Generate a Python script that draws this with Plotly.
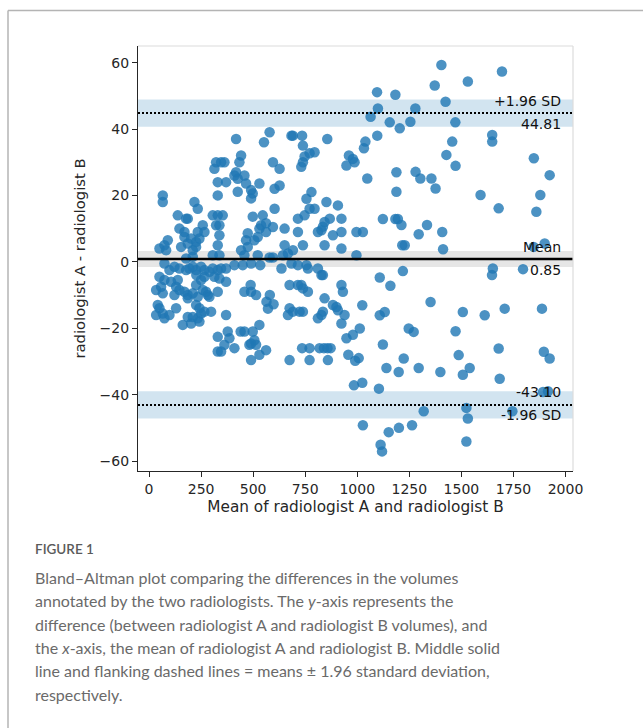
import plotly.graph_objects as go

# ---- data ----
mean_ab = [
    # left cluster, upper half
    418, 322, 346, 362, 314, 442, 434, 418, 410, 458, 426, 466, 490, 498, 426, 490, 530,
    330, 370, 330, 66, 66, 218, 234, 138, 178, 186, 306, 330, 354, 258, 322, 338, 338, 330,
    146, 170, 170, 234, 266, 242, 226, 226, 90, 74, 50, 82, 154, 186, 202, 210, 306, 338,
    474, 466, 474, 506, 530, 522, 538, 562, 562, 498, 546, 442, 458, 522, 178, 210,
    # left cluster, lower half
    74, 98, 122, 146, 178, 194, 210, 226, 250, 266, 290, 306, 330, 346, 370, 410, 450, 490, 534,
    50, 74, 58, 34, 66, 106, 138, 130, 146, 122, 170, 186, 186, 226, 210, 234, 258, 282, 274,
    290, 330, 370, 250, 266, 314, 338, 227, 42, 50, 34, 66, 74, 98, 130, 226, 242, 250, 234,
    266, 298, 210, 186, 162, 202, 242, 370, 330, 330, 346, 362, 378, 410, 386, 458, 440, 498,
    506, 490, 482, 514, 530, 490, 530, 562, 458, 490, 514, 488,
    # middle
    579, 684, 691, 735, 856, 552, 739, 795, 771, 747, 739, 731, 960, 979, 987, 948, 595, 627,
    603, 627, 780, 756, 771, 795, 852, 907, 603, 595, 651, 715, 715, 747, 868, 843, 835, 828,
    811, 924, 924, 883, 996, 651, 739, 843, 924, 691, 667, 643, 595, 579, 996, 636, 684, 715,
    756, 763, 811, 828, 835, 675, 715, 731, 739, 763, 924, 931, 580, 564, 598, 571, 843, 883,
    900, 907, 939, 924, 675, 691, 723, 739, 667, 835, 828, 811, 979, 948, 735, 771, 819, 840,
    857, 872, 675, 771, 859, 957, 990, 1007, 984,
    # right
    1404, 1695, 1372, 1531, 1095, 1183, 1424, 1099, 1279, 1064, 1156, 1204, 1255, 1471, 1096,
    1039, 1032, 1048, 1456, 1428, 1472, 1648, 1648, 1848, 1924, 1879, 1860, 1592, 1679, 1188,
    1280, 1303, 1356, 1376, 1188, 1123, 1183, 1195, 1212, 1027, 1295, 1335, 1408, 1216, 1228,
    1412, 1847, 1900, 1796, 1651, 1647, 1219, 1108, 1159, 1024, 1352, 1108, 1132, 1507, 1612,
    1708, 1887, 1012, 1247, 1271, 1472, 1123, 1679, 1896, 1924, 1487, 1223, 1140, 1199, 1295,
    1399, 1507, 1540, 1684, 1024, 1104, 1892, 1916, 1319, 1524, 1531, 1745, 1027, 1151, 1200,
    1263, 1524, 1112, 1119,
]
diff_ab = [
    37, 30, 30, 30, 28, 32, 30, 27, 26, 26, 25, 23.6, 21.6, 20.6, 21.1, 19.1, 23.6,
    24, 24, 20, 20, 18, 18, 16, 14, 13, 13, 14, 14, 14, 11, 11, 11, 8, 5,
    10, 9, 7.5, 9, 9, 7, 6, 4.5, 6.5, 5, 4, 3.5, 4.5, 5.5, 7, 3.5, 2, 2,
    8.6, 6.5, 4.5, 6.5, 10, 7.5, 11, 11.6, 9, 13.6, 14, 3.5, 2, 2, 1, 1.5,
    -0.5, -2.5, -1.5, -2, -2.5, -2, -1.5, -2.5, -1.5, -2.5, -3, -2, -2.5, -2, -2, -1, -1, -0.5, -1,
    -4.5, -5.5, -7.5, -8.5, -9.5, -6, -5.5, -7.5, -8.5, -10, -9, -10, -11, -7, -9.5, -10.5, -8.5, -10, -9,
    -10.5, -9, -6, -5.5, -4.5, -4.5, -5, -4, -13, -14, -16, -15.6, -17, -16, -14, -13, -14, -15.6, -17,
    -15, -15, -16.6, -16.6, -19, -18.6, -18, -16, -22.6, -27, -27, -25, -21, -26, -23, -21, -21, -21,
    -23.6, -24.6, -25, -25, -19, -29.6, -28, -26.6, -9, -9, -10, -7,
    39, 38, 38, 38, 37, 36, 35, 33, 32.7, 31.7, 30, 28.6, 32, 31, 30, 29, 30, 28,
    22, 23, 21, 19, 16, 16, 18, 17, 16, 10.5, 10, 13, 9, 14, 13, 12, 10.6, 9.5,
    9, 13, 9, 8, 9, 5, 5, 5, 4, 3.5, 2.5, 2, 1.3, 1.3, 2, -2, -0.5, -1,
    -1, -2, -2, -4, -4, -7, -7, -7, -8, -9, -7, -9, -10, -12, -12.8, -14.1, -11, -13,
    -13.6, -14.6, -16, -18.6, -14, -15, -15, -15, -16, -15, -16, -17, -22, -23, -26, -26, -26, -26,
    -26, -26, -29.6, -29.6, -29.6, -28, -29.8, -29, -37.2,
    59.3, 57.3, 53.1, 54.3, 51.1, 50.3, 48.2, 46.2, 46.2, 43.7, 42, 40.2, 42.2, 42, 38,
    36.2, 34.2, 25.1, 36.2, 32.2, 28.9, 38.2, 36.2, 31.2, 26.1, 20.1, 15.1, 20.1, 16.1, 27,
    27.1, 25.1, 25.1, 22.1, 21.1, 12.9, 12.9, 12.9, 11.1, 9, 8.3, 11.1, 9, 5, 5,
    3.8, 4.5, 5.5, -2.2, -2, -4, -2.8, -4.7, -7.2, -13.1, -12.1, -16.1, -15.1, -15.1, -16.1,
    -14.1, -14.1, -20.1, -20.1, -21.1, -20.9, -24.9, -26.1, -27.1, -29.1, -28.1, -29.1, -32, -33.2, -32,
    -33.2, -34, -32, -35.2, -36.4, -38.2, -39.2, -39, -45, -44, -47.2, -45, -49.2, -51.3, -50,
    -49.2, -54.1, -55.1, -57.1,
]

mean_diff = 0.85
upper_loa = 44.81
lower_loa = -43.10
mean_ci = [-1.55, 3.25]
upper_ci = [40.7, 48.9]
lower_ci = [-47.2, -39.0]

x_ticks = [0, 250, 500, 750, 1000, 1250, 1500, 1750, 2000]
y_ticks = [-60, -40, -20, 0, 20, 40, 60]
x_range = [-53, 2036]
y_range = [-63, 65]

x_title = "Mean of radiologist A and radiologist B"
y_title = "radiologist A - radiologist B"

caption_head = "FIGURE 1"
caption_lines = [
    "Bland\u2013Altman plot comparing the differences in the volumes",
    "annotated by the two radiologists. The <i>y</i>-axis represents the",
    "difference (between radiologist A and radiologist B volumes), and",
    "the <i>x</i>-axis, the mean of radiologist A and radiologist B. Middle solid",
    "line and flanking dashed lines = means \u00b1 1.96 standard deviation,",
    "respectively.",
]

# ---- layout geometry ----
W, H = 643, 728
ML, MR, MT, MB = 138, 70, 46, 257
PW, PH = W - ML - MR, H - MT - MB


def px_x(px):
    return (px - ML) / PW


def px_y(py):
    return (H - MB - py) / PH


TXT = "#262626"
tick_font = dict(family="DejaVu Sans", size=14, color=TXT)
xtitle_font = dict(family="DejaVu Sans", size=15.3, color=TXT)
ytitle_font = dict(family="DejaVu Sans", size=14.8, color=TXT)

fig = go.Figure()
fig.add_trace(go.Scatter(
    x=mean_ab, y=diff_ab, mode="markers",
    marker=dict(size=10.5, color="#1f77b4", opacity=0.8, line=dict(width=0)),
    showlegend=False, hoverinfo="x+y",
))

shapes = []
# confidence bands
for lo, hi, col in [(upper_ci[0], upper_ci[1], "rgba(31,119,180,0.2)"),
                    (lower_ci[0], lower_ci[1], "rgba(31,119,180,0.2)"),
                    (mean_ci[0], mean_ci[1], "rgba(128,128,128,0.2)")]:
    shapes.append(dict(type="rect", xref="paper", x0=0, x1=1, yref="y", y0=lo, y1=hi,
                       fillcolor=col, line=dict(width=0), layer="below"))
# mean and limits of agreement
shapes.append(dict(type="line", xref="paper", x0=0, x1=1, yref="y", y0=mean_diff, y1=mean_diff,
                   line=dict(color="black", width=2.6), layer="above"))
for v in (upper_loa, lower_loa):
    shapes.append(dict(type="line", xref="paper", x0=0, x1=1, yref="y", y0=v, y1=v,
                       line=dict(color="black", width=2, dash="2px,2px"), layer="above"))
# light top/right spines
shapes.append(dict(type="line", xref="paper", yref="paper", x0=0, x1=1, y0=1, y1=1,
                   line=dict(color="#dcdcdc", width=1.2)))
shapes.append(dict(type="line", xref="paper", yref="paper", x0=1, x1=1, y0=0, y1=1,
                   line=dict(color="#dcdcdc", width=1.2)))
# card border (top and left)
shapes.append(dict(type="line", xref="paper", yref="paper", x0=px_x(8), x1=px_x(660),
                   y0=px_y(10.5), y1=px_y(10.5), line=dict(color="#b4b4b4", width=1.5)))
shapes.append(dict(type="line", xref="paper", yref="paper", x0=px_x(8), x1=px_x(8),
                   y0=px_y(10.5), y1=px_y(760), line=dict(color="#b4b4b4", width=1.5)))

ann = []
lab_font = dict(family="DejaVu Sans", size=14, color="#111111")
xr = px_x(563)
for val, above, below in [(upper_loa, "+1.96 SD", f"{upper_loa:.2f}"),
                          (mean_diff, "Mean", f"{mean_diff:.2f}"),
                          (lower_loa, f"{lower_loa:.2f}", "-1.96 SD")]:
    ann.append(dict(text=above, xref="paper", x=xr, xanchor="right", yref="y", y=val,
                    yanchor="middle", yshift=12.5, showarrow=False, font=lab_font))
    ann.append(dict(text=below, xref="paper", x=xr, xanchor="right", yref="y", y=val,
                    yanchor="middle", yshift=-10.5, showarrow=False, font=lab_font))

cap_x = px_x(33)
ann.append(dict(text=caption_head, xref="paper", yref="paper", x=cap_x, y=px_y(549),
                xanchor="left", yanchor="middle", showarrow=False,
                font=dict(family="Lato", size=13.5, color="#5a5a5a", weight=600)))
cap_y = [577.5, 600.8, 624.1, 647.4, 670.7, 694]
for line, py in zip(caption_lines, cap_y):
    ann.append(dict(text=line, xref="paper", yref="paper", x=cap_x, y=px_y(py),
                    xanchor="left", yanchor="middle", showarrow=False,
                    font=dict(family="Lato", size=16, color="#6a6a6a", weight=400)))

axis_common = dict(showline=True, linecolor=TXT, linewidth=1.2, ticks="outside", ticklen=5,
                   tickwidth=1.2, tickcolor=TXT, tickfont=tick_font, showgrid=False,
                   zeroline=False)

fig.update_layout(
    width=W, height=H, margin=dict(l=ML, r=MR, t=MT, b=MB, pad=0),
    paper_bgcolor="white", plot_bgcolor="white",
    xaxis=dict(range=x_range, tickvals=x_ticks, **axis_common,
               title=dict(text=x_title, font=xtitle_font, standoff=5)),
    yaxis=dict(range=y_range, tickvals=y_ticks, **axis_common,
               title=dict(text=y_title, font=ytitle_font, standoff=10)),
    shapes=shapes, annotations=ann, showlegend=False,
)

fig.write_html("out.html")
